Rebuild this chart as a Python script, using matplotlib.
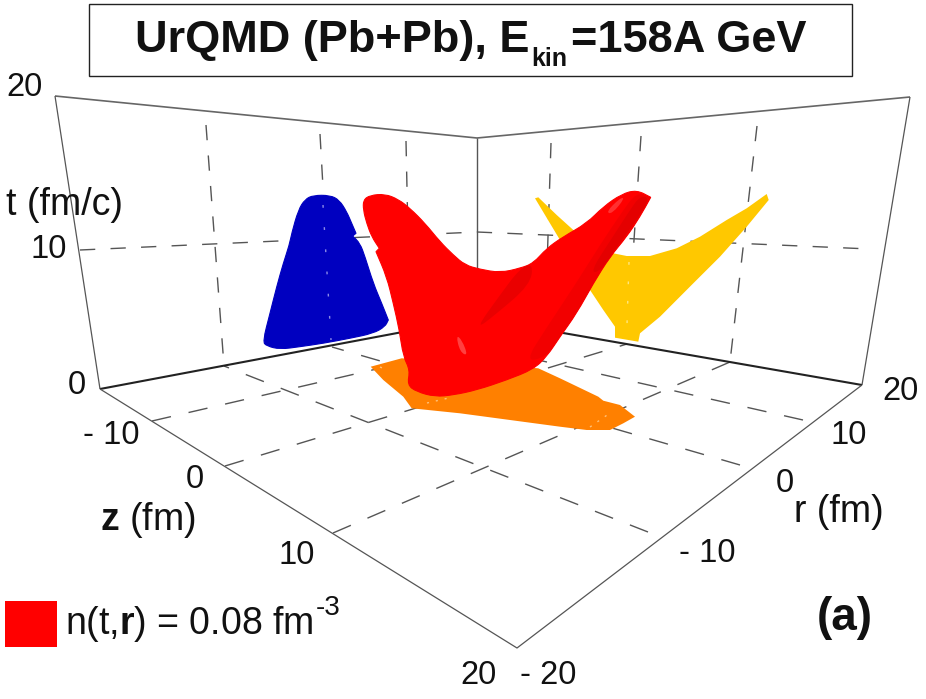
import matplotlib
matplotlib.use("Agg")
import matplotlib.pyplot as plt
from matplotlib.patches import PathPatch, Polygon, Rectangle
from matplotlib.path import Path

plt.rcParams['font.family'] = ['Liberation Sans', 'DejaVu Sans']
plt.rcParams['mathtext.fontset'] = 'custom'
plt.rcParams['mathtext.rm'] = 'Liberation Sans'
plt.rcParams['mathtext.bf'] = 'Liberation Sans:bold'

# everything below is read off the picture, in picture pixels
# a point listed twice stays a sharp corner in rounded()
blue_outline = [(262.7, 341.7), (270, 313.3), (276.7, 286.7), (283.3, 263.3), (289.3, 245), (291.7, 233.3),
                (298.3, 210), (305, 199.3), (313.3, 195.3), (330, 195.3), (339.3, 200), (346.7, 211.7),
                (351.7, 223.3), (356, 233.3), (356, 233.3), (352.7, 236), (352.7, 236), (360, 243.3), (365, 256.7),
                (373.3, 283.3), (381.7, 303.3), (388.3, 320), (388.3, 320), (385, 326.7), (373.3, 333.3),
                (350, 338.3), (323.3, 343.3), (300, 346.7), (280, 349.3), (266.7, 346)]
red_outline = [(363.3, 200), (370, 195.3), (385, 194), (398.3, 199.3), (410, 208.3), (425, 223.3), (440, 241.7),
               (453.3, 255), (465, 265), (480, 269.3), (500, 272.7), (520, 268.3), (533.3, 263.3), (546.7, 248.3),
               (563.3, 236.7), (586.7, 223.3), (603.3, 206.7), (621.7, 194), (636.7, 190), (650.7, 197.3),
               (650.7, 197.3), (640, 216.7), (626.7, 236.7), (610, 256.7), (593.3, 283.3), (576.7, 313.3),
               (560, 336.7), (546.7, 356.7), (533.3, 369.3), (506.7, 380), (476.7, 390), (453.3, 395), (435, 396.7),
               (416.7, 391.7), (407.3, 385), (410, 370), (403.3, 356.7), (399.3, 330), (393.3, 303.3),
               (386.7, 276.7), (376, 251.7), (376, 251.7), (379.3, 248.3), (379.3, 248.3), (371.7, 236.7),
               (366.7, 223.3), (363.3, 210)]
red_shadow = [(636.7, 192), (650.7, 197.3), (650.7, 197.3), (640, 216.7), (626.7, 236.7), (610, 256.7), (593.3, 283.3),
              (576.7, 313.3), (560, 336.7), (546.7, 356.7), (525, 362), (545, 330), (575, 285), (600, 245), (622, 212)]
red_shadow_inner = [(640, 196), (650, 198), (638, 218), (618, 245), (600, 272), (590, 272), (612, 238), (630, 210)]
red_ridge = [(520, 268.3), (533.3, 263.3), (530, 285), (495, 315), (475, 330), (500, 295)]
red_glow = [(456, 335), (462, 340), (468, 356), (460, 352)]
red_tip_glow = [(606, 212), (620, 198), (625, 198), (612, 214)]
yellow_outline = [(535, 198.3), (538.3, 197.3), (556.7, 215), (573.3, 230), (600, 245), (613.3, 253.3), (626.7, 256),
                  (650, 256), (676.7, 248.3), (700, 236.7), (726.7, 220), (746.7, 208.3), (766.7, 194),
                  (768.7, 200), (746.7, 226.7), (720, 256.7), (693.3, 283.3), (660, 316.7), (640, 333.3),
                  (638.3, 341.7), (615, 337.7), (615, 326.7), (603.3, 310), (590, 290), (560, 240)]
orange_outline = [(370.7, 366.7), (401.7, 358.3), (538.3, 368.3), (560, 378.3), (598.3, 396.7), (603.3, 400.7),
                  (620, 405), (635, 416.7), (623.3, 423.3), (610, 430), (586.7, 430), (560, 426.7), (510, 420),
                  (460, 413.3), (411.7, 408.3), (403.3, 396.7), (383.3, 380)]

wall_top = [(55, 96), (477, 138), (910, 97)]
wall_bottom = [(100, 389), (477, 318), (862, 385)]
wall_left = [(55, 96), (100, 389)]
wall_right = [(910, 97), (862, 385)]
wall_center = [(477, 138), (477, 318)]
floor_front = [(100, 389), (517, 648), (862, 385)]
t_grid = [(80, 250), (477, 232), (870, 249)]
wall_grid = [[(206, 125), (224, 366)], [(320, 134), (332, 347)], [(406, 141), (410, 331)],
             [(551, 143), (545, 330)], [(641, 136), (627, 344)], [(757, 126), (730, 362)]]
floor_grid = [[(152, 421), (545, 330)], [(225, 466), (627, 344)], [(333, 533), (730, 362)],
              [(803, 420), (410, 331)], [(740, 465), (332, 347)], [(648, 532), (224, 366)]]
# grid showing faintly through the projections
blue_specks = [(323, 205), (331, 340)]
yellow_specks = [(629, 262), (627, 325)]
orange_specks = [[(380, 367), (387, 370)], [(427, 403), (453, 397)], [(590, 427), (610, 413)]]
tick_labels = [("20", 24, 88), ("10", 49, 250), ("0", 77, 386),
               ("- 10", 111, 435), ("0", 195, 480), ("10", 297, 555), ("20", 479, 675),
               ("- 20", 548, 675), ("- 10", 707, 553), ("0", 785, 483), ("10", 849, 436), ("20", 900, 392)]

fig = plt.figure(figsize=(9.26, 6.99), dpi=100)
ax = fig.add_axes([0, 0, 1, 1])
ax.set_xlim(0, 926)
ax.set_ylim(699, 0)
ax.axis('off')


def draw_line(points, **kwargs):
    xs, ys = zip(*points)
    ax.plot(xs, ys, solid_capstyle='butt', dash_capstyle='butt', **kwargs)


def rounded(points):
    # outline through the edge midpoints, with the read points as curve controls
    mids = [((points[i][0] + points[(i + 1) % len(points)][0]) / 2,
             (points[i][1] + points[(i + 1) % len(points)][1]) / 2) for i in range(len(points))]
    verts = [mids[-1]]
    codes = [Path.MOVETO]
    for i, p in enumerate(points):
        verts += [p, mids[i]]
        codes += [Path.CURVE3, Path.CURVE3]
    return Path(verts, codes)


for seg in wall_grid:
    draw_line(seg, color='#555555', lw=1.0, dashes=(11, 11), zorder=1)
draw_line(t_grid, color='#555555', lw=1.0, dashes=(11, 11), zorder=1)
for seg in floor_grid:
    draw_line(seg, color='#555555', lw=1.0, dashes=(14, 13), zorder=1)

draw_line(wall_top, color='#666666', lw=1.2, zorder=2)
draw_line(wall_left, color='#555555', lw=0.9, zorder=2)
draw_line(wall_right, color='#555555', lw=0.9, zorder=2)
draw_line(wall_center, color='#555555', lw=1.0, zorder=2)
draw_line(wall_bottom, color='#222222', lw=1.5, zorder=2)
draw_line(floor_front, color='#555555', lw=0.9, zorder=2)

ax.add_patch(PathPatch(rounded(blue_outline), fc='#0000c0', ec='#0000c0', lw=0.8, zorder=3))
ax.add_patch(Polygon(yellow_outline, closed=True, fc='#ffc800', ec='none', zorder=3))
ax.add_patch(Polygon(orange_outline, closed=True, fc='#ff8000', ec='none', zorder=3))
draw_line(blue_specks, color='#8c8ce8', lw=1.0, dashes=(2, 14), zorder=3.5)
draw_line(yellow_specks, color='#ffe680', lw=1.0, dashes=(2, 12), zorder=3.5)
for seg in orange_specks:
    draw_line(seg, color='#ffc078', lw=1.0, dashes=(1.5, 5), zorder=3.5)

ax.add_patch(PathPatch(rounded(red_outline), fc='#ff0000', ec='#ff0000', lw=0.8, zorder=4))
ax.add_patch(PathPatch(rounded(red_shadow), fc='#f20000', ec='none', zorder=5))
ax.add_patch(PathPatch(rounded(red_shadow_inner), fc='#e40000', ec='none', zorder=5))
ax.add_patch(PathPatch(rounded(red_ridge), fc='#ea0000', ec='none', zorder=5))
ax.add_patch(PathPatch(rounded(red_glow), fc='#ff4040', ec='none', zorder=5))
ax.add_patch(PathPatch(rounded(red_tip_glow), fc='#ff3030', ec='none', zorder=6))

# title box, the subscript sits lower than mathtext would put it
ax.add_patch(Rectangle((88.5, 3.5), 763, 72, fc='white', ec='#222222', lw=1.0, zorder=7))
ax.text(135, 52, "UrQMD (Pb+Pb), E", fontsize=32.5, fontweight='bold', ha='left', va='baseline',
        color='#111111', zorder=8)
ax.text(531, 66, "kin", fontsize=18, fontweight='bold', ha='left', va='baseline', color='#111111', zorder=8)
ax.text(571, 52, "=158A GeV", fontsize=32.5, fontweight='bold', ha='left', va='baseline',
        color='#111111', zorder=8)

for label, x, y in tick_labels:
    ax.text(x, y, label, fontsize=23.5, ha='center', va='center', color='#111111', zorder=8)

ax.text(64, 205, "t (fm/c)", fontsize=27, ha='center', va='center', color='#111111', zorder=8)
ax.text(148, 520, r"$\mathbf{z}$ (fm)", fontsize=27, ha='center', va='center', color='#111111', zorder=8)
ax.text(839, 512, "r (fm)", fontsize=27, ha='center', va='center', color='#111111', zorder=8)
ax.text(845, 618, "(a)", fontsize=33, fontweight='bold', ha='center', va='center', color='#111111', zorder=8)

# legend swatch and text
ax.add_patch(Rectangle((5, 601), 52, 46, fc='#ff0000', ec='none', zorder=7))
ax.text(65, 634, r"n(t,$\mathbf{r}$) = 0.08 fm", fontsize=27, ha='left', va='baseline',
        color='#111111', zorder=8)
ax.text(316, 608, "-3", fontsize=20, ha='left', va='center', color='#111111', zorder=8)

fig.savefig("out.png", dpi=100)
